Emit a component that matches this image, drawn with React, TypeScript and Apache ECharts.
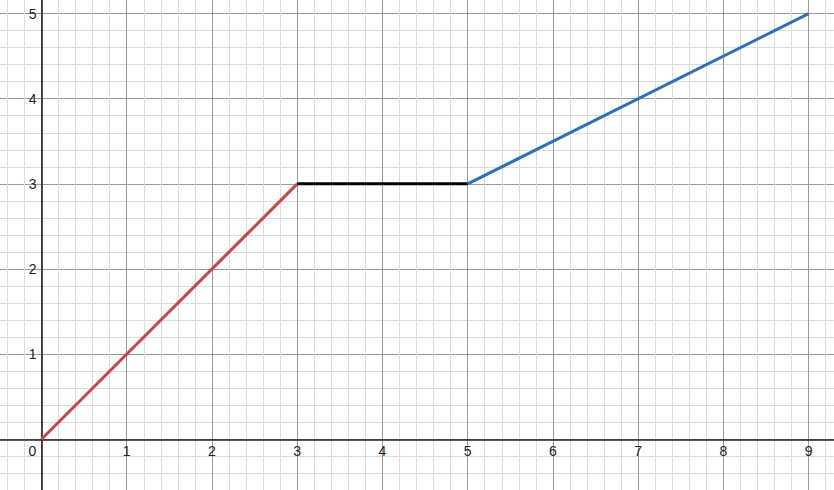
import React, { useEffect, useRef } from "react";
import * as echarts from "echarts";

const redSegment: number[][] = [[0, 0], [3, 3]];
const blackSegment: number[][] = [[3, 3], [5, 3]];
const blueSegment: number[][] = [[5, 3], [9, 5]];

const xRange = [-1, 10];
const yRange = [-1, 6];

export default function App() {
  const ref = useRef<HTMLDivElement>(null);
  useEffect(() => {
    if (!ref.current) return;
    const chart = echarts.init(ref.current, null, { renderer: "svg" });
    const W = 834, H = 490;
    const ox = 41.5, oy = 439.3, ux = 85.24, uy = 85.15;
    const gLeft = ox + xRange[0] * ux;
    const gRight = W - (ox + xRange[1] * ux);
    const gTop = oy - yRange[1] * uy;
    const gBottom = H - (oy - yRange[0] * uy);
    const labelStyle = { color: "#222", fontSize: 14, fontFamily: "Liberation Sans, Arial, sans-serif" };
    const major = { show: true, lineStyle: { color: "#999999", width: 1 } };
    const minor = { show: true, lineStyle: { color: "#dcdcdc", width: 1 } };
    chart.setOption({
      animation: false,
      backgroundColor: "#fff",
      grid: {
        left: gLeft,
        right: gRight,
        top: gTop,
        bottom: gBottom,
        containLabel: false,
        outerBoundsMode: "none",
      },
      xAxis: {
        type: "value",
        min: xRange[0],
        max: xRange[1],
        interval: 1,
        position: "bottom",
        offset: -(0 - yRange[0]) * uy,
        axisLine: { onZero: false, lineStyle: { color: "#222", width: 1.6 } },
        axisTick: { show: false },
        splitLine: major,
        minorTick: { show: false, splitNumber: 5 },
        minorSplitLine: minor,
        axisLabel: {
          ...labelStyle,
          margin: 5,
          showMinLabel: false,
          showMaxLabel: false,
          formatter: (v: number) => (v === 0 ? "{z|0}" : v < 0 ? "" : String(v)),
          rich: { z: { ...labelStyle, padding: [0, 18, 0, 0] } },
        },
      },
      yAxis: {
        type: "value",
        min: yRange[0],
        max: yRange[1],
        interval: 1,
        position: "left",
        offset: -(0 - xRange[0]) * ux,
        axisLine: { onZero: false, lineStyle: { color: "#222", width: 1.6 } },
        axisTick: { show: false },
        splitLine: major,
        minorTick: { show: false, splitNumber: 5 },
        minorSplitLine: minor,
        axisLabel: {
          ...labelStyle,
          margin: 5,
          showMinLabel: false,
          showMaxLabel: false,
          formatter: (v: number) => (v <= 0 ? "" : String(v)),
        },
      },
      series: [
        { type: "line", data: redSegment, showSymbol: false, lineStyle: { color: "#c74440", width: 3 } },
        { type: "line", data: blackSegment, showSymbol: false, lineStyle: { color: "#000000", width: 3 } },
        { type: "line", data: blueSegment, showSymbol: false, lineStyle: { color: "#2d70b3", width: 3 } },
      ],
    });
    return () => chart.dispose();
  }, []);
  return (
    <div
      ref={ref}
      style={{ position: "fixed", left: 0, top: 0, width: 834, height: 490, overflow: "hidden" }}
    />
  );
}
